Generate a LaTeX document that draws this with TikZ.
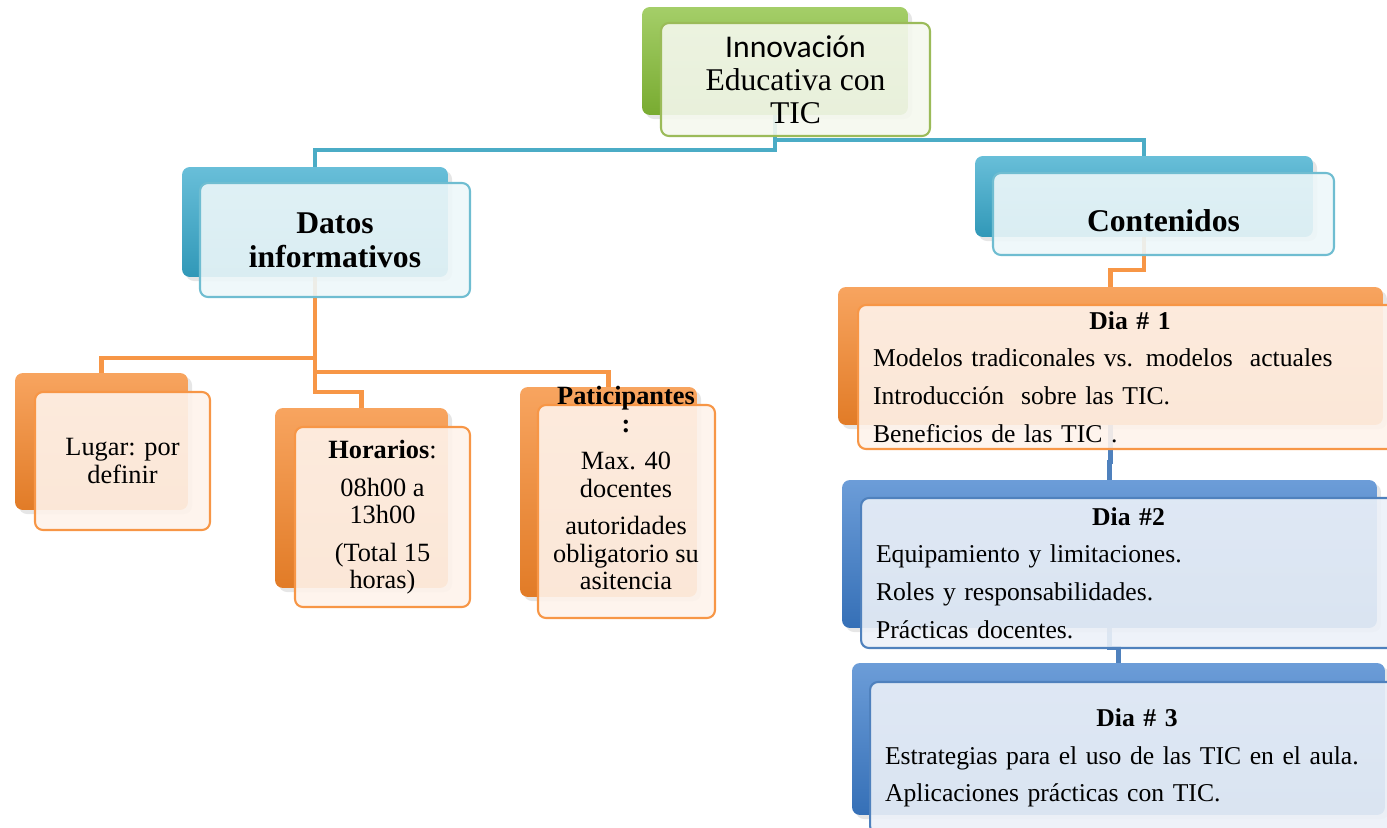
\documentclass[tikz,border=0pt]{standalone}
\usepackage{fontspec}
\setmainfont{Liberation Serif}
\newfontfamily\calibri{Carlito}
\usetikzlibrary{backgrounds,shadows}

\definecolor{accGreen}{HTML}{9BBB59}
\definecolor{accAqua}{HTML}{4BACC6}
\definecolor{accOrange}{HTML}{F79646}
\definecolor{accBlue}{HTML}{4F81BD}
\definecolor{deepGreen}{HTML}{86BE36}
\definecolor{deepAqua}{HTML}{36A9CC}
\definecolor{deepOrange}{HTML}{F5862A}
\definecolor{deepBlue}{HTML}{3B7CCB}

\begin{document}
\begin{tikzpicture}[x=0.02cm,y=-0.02cm]
\tikzstyle{gback}=[rectangle,rounded corners=4.5pt,top color=deepGreen!75!white,bottom color=deepGreen!90!black,drop shadow={opacity=.2}]
\tikzstyle{aback}=[rectangle,rounded corners=4.5pt,top color=deepAqua!75!white,bottom color=deepAqua!90!black,drop shadow={opacity=.2}]
\tikzstyle{oback}=[rectangle,rounded corners=4.5pt,top color=deepOrange!75!white,bottom color=deepOrange!92!black,drop shadow={opacity=.2}]
\tikzstyle{bback}=[rectangle,rounded corners=4.5pt,top color=deepBlue!75!white,bottom color=deepBlue!90!black,drop shadow={opacity=.2}]
\tikzstyle{gfront}=[rectangle,rounded corners=4.5pt,draw=accGreen,line width=1.2pt,fill=accGreen!10!white,fill opacity=.9,text opacity=1,align=center,inner sep=0pt,font=\fontsize{18}{18.7}\selectfont]
\tikzstyle{afront}=[rectangle,rounded corners=4.5pt,draw=accAqua!80!white,line width=1.2pt,fill=accAqua!10!white,fill opacity=.9,text opacity=1,align=center,inner sep=0pt,font=\fontsize{18}{19.3}\selectfont\bfseries]
\tikzstyle{ofront}=[rectangle,rounded corners=4.5pt,draw=accOrange,line width=1.2pt,fill=accOrange!11!white,fill opacity=.9,text opacity=1,align=center,inner sep=0pt,font=\fontsize{15}{15.5}\selectfont]
\tikzstyle{dfront}=[rectangle,rounded corners=4.5pt,line width=1.2pt,fill opacity=.9,text opacity=1,align=left,inner xsep=0.3cm,inner ysep=0pt,font=\fontsize{14.6}{21.5}\selectfont]
\tikzstyle{alink}=[draw=accAqua,line width=2.4pt]
\tikzstyle{olink}=[draw=accOrange,line width=2.4pt]
\tikzstyle{blink}=[draw=accBlue,line width=2.4pt]

\useasboundingbox (0,0) rectangle (1387,828);

% top
\node[gback,minimum width=5.32cm,minimum height=2.16cm] (topB) at (775,61) {};
\node[gfront,minimum width=5.38cm,minimum height=2.26cm] (top) at (795.5,79.5) {{\calibri Innovación}\\Educativa con\\TIC};

% second level
\node[aback,minimum width=5.32cm,minimum height=2.2cm] (datosB) at (315,222) {};
\node[afront,minimum width=5.4cm,minimum height=2.28cm] (datos) at (335,240) {Datos\\informativos};

\node[aback,minimum width=6.76cm,minimum height=1.62cm] (contB) at (1144,196.5) {};
\node[afront,minimum width=6.82cm,minimum height=1.64cm,text height=20pt,text depth=0.2pt] (cont) at (1163.5,214) {Contenidos};

% datos informativos
\node[oback,minimum width=3.46cm,minimum height=2.74cm] (lugarB) at (101.5,441.5) {};
\node[ofront,minimum width=3.5cm,minimum height=2.76cm] (lugar) at (122.5,461) {Lugar: por\\definir};

\node[oback,minimum width=3.46cm,minimum height=3.6cm] (horB) at (361.5,498) {};
\node[ofront,minimum width=3.5cm,minimum height=3.6cm] (hor) at (382.5,517) {\textbf{Horarios}:\\[6pt]08h00 a\\13h00\\[6pt](Total 15\\horas)};

\node[oback,minimum width=3.54cm,minimum height=4.2cm] (partB) at (608.5,492) {};
\node[ofront,minimum width=3.54cm,minimum height=4.26cm] (part) at (626.5,511.5) {};
\node[align=center,font=\fontsize{15}{15.5}\selectfont] (partTxt) at (626,488) {\textbf{Paticipantes}\\\textbf{:}\\[6pt]Max. 40\\docentes\\[6pt]autoridades\\obligatorio su\\asitencia};

% contenidos
\node[oback,minimum width=10.9cm,minimum height=2.76cm] (dia1B) at (1110.5,356) {};
\node[dfront,draw=accOrange,fill=accOrange!11!white,text width=10.28cm,minimum height=2.88cm] (dia1) at (1130,377) {\makebox[\hsize]{\bfseries Dia \# 1}\\Modelos tradiconales vs. modelos\ \ actuales\\Introducción\ \ sobre las TIC.\\Beneficios de las TIC .};

\node[bback,minimum width=10.7cm,minimum height=2.96cm] (dia2B) at (1109.5,554) {};
\node[dfront,draw=accBlue,fill=accBlue!11!white,text width=10.1cm,minimum height=3cm] (dia2) at (1128.5,573) {\makebox[\hsize]{\bfseries Dia \#2}\\Equipamiento y limitaciones.\\Roles y responsabilidades.\\Prácticas docentes.};

\node[bback,minimum width=10.66cm,minimum height=3.04cm] (dia3B) at (1118.5,739) {};
\node[dfront,draw=accBlue,fill=accBlue!11!white,text width=10.08cm,minimum height=3.04cm] (dia3) at (1137,758) {\makebox[\hsize]{\bfseries Dia \# 3}\\Estrategias para el uso de las TIC en el aula.\\Aplicaciones prácticas con TIC.};

\begin{scope}[on background layer]
\draw[alink] (topB.south) -- ++(0,35) -| (datosB.north);
\draw[alink] (topB.south) -- ++(0,25) -| (contB.north);
\draw[olink] (datosB.south) -- ++(0,81) -| (lugarB.north);
\draw[olink] (datosB.south) -- ++(0,95) -| (partB.north);
\draw[olink] (datosB.south) -- ++(0,115) -| (horB.north);
\draw[olink] (contB.south) -- ++(0,33) -| (dia1B.north);
\draw[blink] (dia1B.south) -- ++(0,37) -| (dia2B.north);
\draw[blink] (dia2B.south) -- ++(0,20) -| (dia3B.north);
\end{scope}

\end{tikzpicture}
\end{document}
